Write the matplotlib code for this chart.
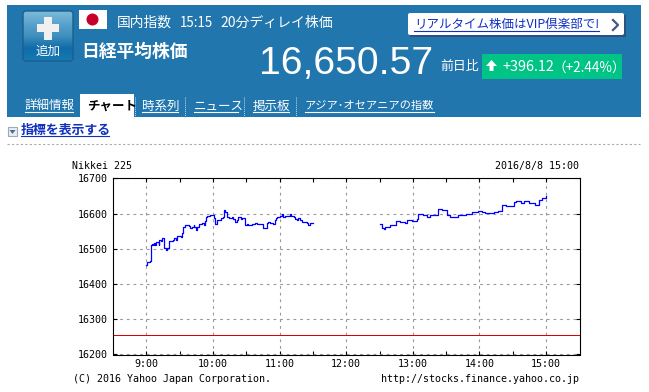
import numpy as np
import matplotlib
matplotlib.use('Agg')
import matplotlib.pyplot as plt
from matplotlib.colors import LinearSegmentedColormap
from matplotlib.patches import Rectangle, FancyBboxPatch, Circle, Polygon

plt.rcParams['font.family'] = ['Noto Sans CJK JP', 'DejaVu Sans']

# minutes after 9:00, price
am_min = [0,1,3,4,5,6,7,8,9,11,11.5,13,14.5,16,17.5,18.5,20,24,24.5,26.5,27.5,28,31,32,33,34.5,38,39.5,41,42.5,43,44.5,45.5,47,50.5,51.5,53,54,55,57.5,60.5,62,63.5,67.5,69,70,71,72.5,74,77,78.5,80,81.5,83,85,86.5,88.5,90.5,91.5,95,98,100,105.5,108.5,110,111,114,115.5,117,118,120.5,122,123,125,129,130.5,133,134,135.5,137,138,140.5,144.5,145.5,147,150]
am_val = [16455,16463,16466,16511,16514,16511,16517,16511,16519,16511,16525,16522,16530,16503,16498,16503,16522,16526,16531,16524,16531,16537,16533,16546,16563,16567,16565,16558,16562,16568,16562,16554,16562,16571,16573,16569,16578,16592,16594,16597,16589,16571,16582,16589,16590,16610,16605,16590,16589,16590,16586,16577,16583,16590,16585,16589,16569,16570,16567,16571,16574,16571,16560,16574,16576,16574,16571,16581,16589,16591,16594,16599,16591,16594,16599,16593,16590,16586,16583,16588,16583,16576,16574,16569,16574,16574]
pm_min = [210,212,214,215,219,225,228,233,234.5,239,244,245,249,253,255,260,263,266,271,273,279,281,288,293,299,302,305,309,313,317,320,324,331,333,337,340,345,350,354,356,360]
pm_val = [16571,16560,16557,16562,16569,16580,16577,16574,16583,16579,16586,16598,16595,16592,16595,16597,16614,16610,16595,16592,16590,16597,16600,16605,16608,16605,16601,16602,16604,16608,16626,16621,16632,16635,16630,16636,16629,16624,16638,16646,16650]
prev_close = 16254
y_ticks = [16200,16300,16400,16500,16600,16700]
x_ticks = [0,60,120,180,240,300,360]
x_labels = ['9:00','10:00','11:00','12:00','13:00','14:00','15:00']
x_minor = [30,90,150,210,270,330]

W, H = 649, 392
blue = '#2176ae'
link = '#1030c0'
fig = plt.figure(figsize=(W/100, H/100), dpi=100, facecolor='white')

# page in pixel coordinates
bg = fig.add_axes([0, 0, 1, 1])
bg.axis('off')
bg.add_patch(Rectangle((7, 5), 634, 112, color=blue, lw=0))

# add button
grad = np.linspace(0, 1, 50).reshape(-1, 1)
cmap = LinearSegmentedColormap.from_list('btn', ['#7cbadb', '#5aa3cb', '#3f8fbd', '#0f6ca8', '#1778b2'])
im = bg.imshow(grad, extent=(23, 73, 61, 11), cmap=cmap, aspect='auto', zorder=2)
btn = FancyBboxPatch((23, 11), 50, 50, boxstyle='round,pad=0,rounding_size=3', fc='none', ec='#1a5f8f', lw=1, zorder=3)
bg.add_patch(btn)
im.set_clip_path(btn)
bg.set_xlim(0, W)
bg.set_ylim(H, 0)
bg.add_patch(Rectangle((37, 24), 22, 8, color='#f0f0f0', lw=0, zorder=3))
bg.add_patch(Rectangle((44, 17), 8, 23, color='#f0f0f0', lw=0, zorder=3))
bg.text(48, 51, '追加', color='white', fontsize=9, ha='center', va='center', zorder=3)

# flag
bg.add_patch(Rectangle((79, 10), 28, 19, color='white', lw=0))
bg.add_patch(Circle((92.5, 19.5), 6, color='#c8002a', lw=0))

bg.text(117, 23, '国内指数', color='white', fontsize=9.9, va='center')
bg.text(180, 23, '15:15', color='white', fontsize=9.6, va='center')
bg.text(220, 23, '20分ディレイ株価', color='white', fontsize=10, va='center')
bg.text(81, 52, '日経平均株価', color='white', fontsize=12.8, va='center', weight='bold')
bg.text(259, 64, '16,650.57', color='white', fontsize=28.2, va='center', family='Liberation Sans')
bg.text(440, 66, '前日比', color='white', fontsize=9.3, va='center')

# VIP link
bg.add_patch(Rectangle((410, 15), 216, 22, color='#2c5080', lw=0))
bg.add_patch(FancyBboxPatch((408, 13), 216, 22, boxstyle='round,pad=0,rounding_size=2', color='white', lw=0))
bg.text(414, 24.5, 'リアルタイム株価はVIP倶楽部で!', color=link, fontsize=9, va='center')
bg.plot([414, 599], [31, 31], color=link, lw=0.8)
bg.plot([613, 618, 613], [20, 25, 30], color='#44597f', lw=1.6)

# change box
bg.add_patch(Rectangle((482, 54), 140, 25, color='#00c485', lw=0))
bg.add_patch(Polygon([(486, 66), (491.5, 60), (497, 66), (493.5, 66), (493.5, 71), (489.5, 71), (489.5, 66)], color='white', lw=0))
bg.text(502, 71, '+396.12', color='white', fontsize=10.4, va='baseline')
bg.text(552, 72, '（+2.44%）', color='white', fontsize=9.8, va='baseline')

# tabs
bg.add_patch(Rectangle((80, 94), 54, 23, color='white', lw=0))
tabs = [('詳細情報', 25, 73, 9), ('時系列', 142, 178, 9), ('ニュース', 194, 238, 9), ('掲示板', 253, 289, 9), ('アジア･オセアニアの指数', 305, 434, 8.1)]
for name, x0, x1, size in tabs:
    bg.text(x0, 106, name, color='white', fontsize=size, va='center')
    bg.plot([x0, x1], [112, 112], color='white', lw=0.8)
bg.text(87, 106, 'チャート', color='black', fontsize=9, va='center', weight='bold')
for x in [134.5, 185, 244, 296]:
    bg.plot([x, x], [97, 117], color='#c0d8e8', lw=0.7, ls=(0, (1, 1)))

# indicator link
bg.add_patch(Rectangle((8, 127), 9, 9, fc='#e8eef4', ec='#9aaabb', lw=0.8))
bg.add_patch(Polygon([(9.5, 130), (15.5, 130), (12.5, 134)], color='#506c90', lw=0))
bg.text(21, 130, '指標を表示する', color=link, fontsize=9.3, va='center', weight='bold')
bg.plot([21, 109], [136, 136], color=link, lw=0.8)
bg.plot([7, 640], [143.5, 143.5], color='#aaaaaa', lw=0.8, ls=(0, (2, 2)))

# chart
x_px0, x_px1, y_px0, y_px1 = 113, 580, 178.5, 354.5
ax = fig.add_axes([x_px0/W, 1 - y_px1/H, (x_px1 - x_px0)/W, (y_px1 - y_px0)/H])
ax.patch.set_alpha(0)
ax.step(am_min, am_val, where='post', color='#0000ff', lw=0.9)
ax.step(pm_min, pm_val, where='post', color='#0000ff', lw=0.9)
ax.axhline(prev_close, color='#e00000', lw=0.72, antialiased=False)
ax.set_xlim(-30, 390.5)
ax.set_ylim(16200, 16700)
ax.set_xticks(x_ticks)
ax.set_xticklabels(x_labels)
ax.set_xticks(x_minor, minor=True)
ax.set_yticks(y_ticks)
ax.grid(True, color='#999999', lw=0.8, ls=(0, (2.5, 3.5)))
ax.tick_params(axis='both', which='major', labelsize=7.2, labelfontfamily='DejaVu Sans Mono', length=3, width=0.8, direction='in', top=True, right=True)
ax.tick_params(axis='x', which='major', pad=3)
ax.tick_params(axis='y', which='major', pad=4)
ax.tick_params(axis='x', which='minor', length=3, width=0.8, direction='in', top=True)
for s in ax.spines.values():
    s.set_linewidth(0.8)

mono = dict(family='DejaVu Sans Mono', fontsize=7.2, color='black', va='center')
bg.text(72, 166, 'Nikkei 225', **mono)
bg.text(579, 166, '2016/8/8 15:00', ha='right', **mono)
bg.text(73, 378.5, '(C) 2016 Yahoo Japan Corporation.', **mono)
bg.text(579, 378.5, 'http://stocks.finance.yahoo.co.jp', ha='right', **mono)

fig.savefig('out.png', dpi=100)
